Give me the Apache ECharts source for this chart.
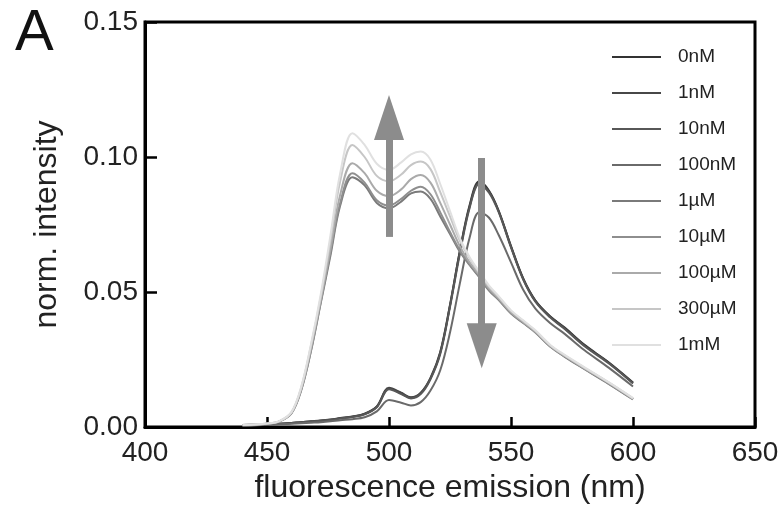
<!DOCTYPE html>
<html>
<head>
<meta charset="utf-8">
<script src="https://cdn.jsdelivr.net/npm/echarts@6/dist/echarts.min.js"></script>
<style>
  html, body { margin: 0; padding: 0; background: #fff; }
  #chart { width: 784px; height: 520px; }
</style>
</head>
<body>
<div id="chart"></div>
<script>
// emission wavelengths (nm)
var wl = [440, 450, 455, 460, 464, 468, 472, 476, 480, 485, 490, 495, 500, 505, 509, 513,
  517, 521, 525, 529, 533, 537, 541, 545, 550, 555, 560, 566, 572, 580, 590, 600];

// normalized intensity per concentration
var nM0 = [0.0005, 0.0010, 0.0012, 0.0015, 0.0018, 0.0020, 0.0023, 0.0027, 0.0032, 0.0038, 0.0048, 0.0075, 0.0143, 0.0125, 0.0108, 0.0125,
  0.0180, 0.0275, 0.0450, 0.0650, 0.0820, 0.0910, 0.0875, 0.0800, 0.0670, 0.0550, 0.0468, 0.0410, 0.0368, 0.0305, 0.0240, 0.0165];
var nM1 = [0.0005, 0.0010, 0.0012, 0.0015, 0.0018, 0.0021, 0.0024, 0.0028, 0.0033, 0.0039, 0.0049, 0.0076, 0.0145, 0.0127, 0.0110, 0.0127,
  0.0182, 0.0278, 0.0452, 0.0648, 0.0815, 0.0905, 0.0872, 0.0798, 0.0668, 0.0549, 0.0467, 0.0409, 0.0366, 0.0303, 0.0238, 0.0163];
var nM10 = [0.0005, 0.0009, 0.0011, 0.0014, 0.0017, 0.0020, 0.0023, 0.0026, 0.0031, 0.0037, 0.0047, 0.0073, 0.0140, 0.0122, 0.0106, 0.0122,
  0.0177, 0.0270, 0.0445, 0.0640, 0.0810, 0.0900, 0.0868, 0.0795, 0.0665, 0.0546, 0.0464, 0.0406, 0.0363, 0.0300, 0.0236, 0.0161];
var nM100 = [0.0004, 0.0008, 0.0010, 0.0012, 0.0014, 0.0016, 0.0018, 0.0021, 0.0025, 0.0029, 0.0036, 0.0058, 0.0100, 0.0090, 0.0080, 0.0092,
  0.0135, 0.0210, 0.0350, 0.0530, 0.0700, 0.0795, 0.0775, 0.0710, 0.0610, 0.0508, 0.0438, 0.0385, 0.0345, 0.0285, 0.0220, 0.0150];
var uM1 = [0.0007, 0.0012, 0.0020, 0.0050, 0.0135, 0.0280, 0.0458, 0.0635, 0.0820, 0.0925, 0.0895, 0.0830, 0.0810, 0.0835, 0.0865, 0.0872,
  0.0845, 0.0780, 0.0715, 0.0650, 0.0600, 0.0555, 0.0505, 0.0470, 0.0420, 0.0385, 0.0350, 0.0298, 0.0260, 0.0215, 0.0160, 0.0102];
var uM10 = [0.0007, 0.0012, 0.0020, 0.0051, 0.0137, 0.0283, 0.0462, 0.0645, 0.0830, 0.0940, 0.0905, 0.0840, 0.0820, 0.0845, 0.0875, 0.0890,
  0.0862, 0.0795, 0.0722, 0.0655, 0.0603, 0.0558, 0.0508, 0.0472, 0.0422, 0.0387, 0.0351, 0.0299, 0.0261, 0.0216, 0.0161, 0.0103];
var uM100 = [0.0007, 0.0012, 0.0021, 0.0052, 0.0140, 0.0290, 0.0470, 0.0660, 0.0860, 0.0977, 0.0940, 0.0875, 0.0855, 0.0880, 0.0918, 0.0933,
  0.0905, 0.0830, 0.0750, 0.0670, 0.0610, 0.0563, 0.0513, 0.0476, 0.0425, 0.0389, 0.0353, 0.0301, 0.0263, 0.0218, 0.0163, 0.0104];
var uM300 = [0.0007, 0.0013, 0.0021, 0.0054, 0.0145, 0.0300, 0.0480, 0.0690, 0.0910, 0.1044, 0.1000, 0.0930, 0.0910, 0.0935, 0.0970, 0.0983,
  0.0955, 0.0870, 0.0780, 0.0690, 0.0625, 0.0570, 0.0520, 0.0481, 0.0430, 0.0393, 0.0356, 0.0303, 0.0265, 0.0220, 0.0165, 0.0106];
var mM1 = [0.0007, 0.0013, 0.0022, 0.0055, 0.0148, 0.0305, 0.0490, 0.0710, 0.0940, 0.1088, 0.1045, 0.0975, 0.0952, 0.0980, 0.1010, 0.1020,
  0.0990, 0.0900, 0.0800, 0.0700, 0.0630, 0.0575, 0.0524, 0.0484, 0.0432, 0.0395, 0.0358, 0.0305, 0.0267, 0.0222, 0.0166, 0.0107];

var names = ["0nM", "1nM", "10nM", "100nM", "1µM", "10µM", "100µM", "300µM", "1mM"];
var values = [nM0, nM1, nM10, nM100, uM1, uM10, uM100, uM300, mM1];
var colors = ["#333333", "#474747", "#575757", "#6a6a6a", "#7a7a7a", "#8e8e8e", "#aaaaaa", "#c6c6c6", "#e0e0e0"];

var xTicks = [400, 450, 500, 550, 600, 650];
var yTicks = [0.00, 0.05, 0.10, 0.15];

var FONT = "Liberation Sans";
var chart = echarts.init(document.getElementById("chart"));

var series = [{
  // arrows showing the direction of change
  name: "arrows",
  type: "line",
  data: [],
  z: 1,
  silent: true,
  markLine: {
    silent: true,
    symbol: "none",
    animation: false,
    label: { show: false },
    emphasis: { disabled: true },
    lineStyle: { color: "#8c8c8c", width: 7, type: "solid" },
    data: [
      [{ coord: [500, 0.0704] }, { coord: [500, 0.107] }],
      [{ coord: [538, 0.0996] }, { coord: [538, 0.032] }]
    ]
  },
  markPoint: {
    silent: true,
    symbol: "triangle",
    symbolSize: [30, 45],
    animation: false,
    label: { show: false },
    itemStyle: { color: "#8c8c8c" },
    data: [
      { coord: [500, 0.1146] },
      { coord: [538, 0.0301], symbolRotate: 180 }
    ]
  }
}];

names.forEach(function (n, k) {
  series.push({
    name: n,
    type: "line",
    z: 2,
    smooth: 0.35,
    symbol: "none",
    color: colors[k],
    lineStyle: { width: 2, color: colors[k] },
    data: wl.map(function (x, i) { return [x, values[k][i]]; })
  });
});

var option = {
  animation: false,
  backgroundColor: "#fff",
  title: {
    text: "A",
    left: 10,
    top: 0,
    textStyle: { fontFamily: FONT, fontSize: 58, fontWeight: "normal", color: "#111" }
  },
  grid: {
    left: 145, right: 29, top: 22, bottom: 93,
    show: true, borderColor: "#000", borderWidth: 3, backgroundColor: "transparent"
  },
  legend: {
    data: names,
    orient: "vertical",
    left: 607,
    top: 42,
    icon: "rect",
    itemWidth: 49,
    itemHeight: 2,
    itemGap: 16,
    textStyle: { fontFamily: FONT, fontSize: 19, lineHeight: 20, color: "#222", padding: [0, 0, 0, 12] }
  },
  xAxis: {
    type: "value",
    min: 400, max: 650, interval: 50,
    name: "fluorescence emission (nm)",
    nameLocation: "middle",
    nameGap: 40,
    nameTextStyle: { fontFamily: FONT, fontSize: 32, color: "#222" },
    axisLine: { onZero: false, lineStyle: { color: "#000", width: 3 } },
    axisTick: { inside: true, length: 10, lineStyle: { color: "#000", width: 2.5 } },
    axisLabel: {
      margin: 12, fontFamily: FONT, fontSize: 28, color: "#222",
      formatter: function (v) { return xTicks.indexOf(v) >= 0 ? String(v) : ""; }
    },
    splitLine: { show: false }
  },
  yAxis: {
    type: "value",
    min: 0, max: 0.15, interval: 0.05,
    name: "norm. intensity",
    nameLocation: "middle",
    nameGap: 82,
    nameTextStyle: { fontFamily: FONT, fontSize: 32, color: "#222" },
    axisLine: { onZero: false, lineStyle: { color: "#000", width: 3 } },
    axisTick: { inside: true, length: 12, lineStyle: { color: "#000", width: 2.5 } },
    axisLabel: {
      margin: 7, fontFamily: FONT, fontSize: 28, color: "#222",
      formatter: function (v) {
        var t = yTicks.filter(function (y) { return Math.abs(y - v) < 1e-9; });
        return t.length ? t[0].toFixed(2) : "";
      }
    },
    splitLine: { show: false }
  },
  series: series
};

chart.setOption(option);
</script>
</body>
</html>
